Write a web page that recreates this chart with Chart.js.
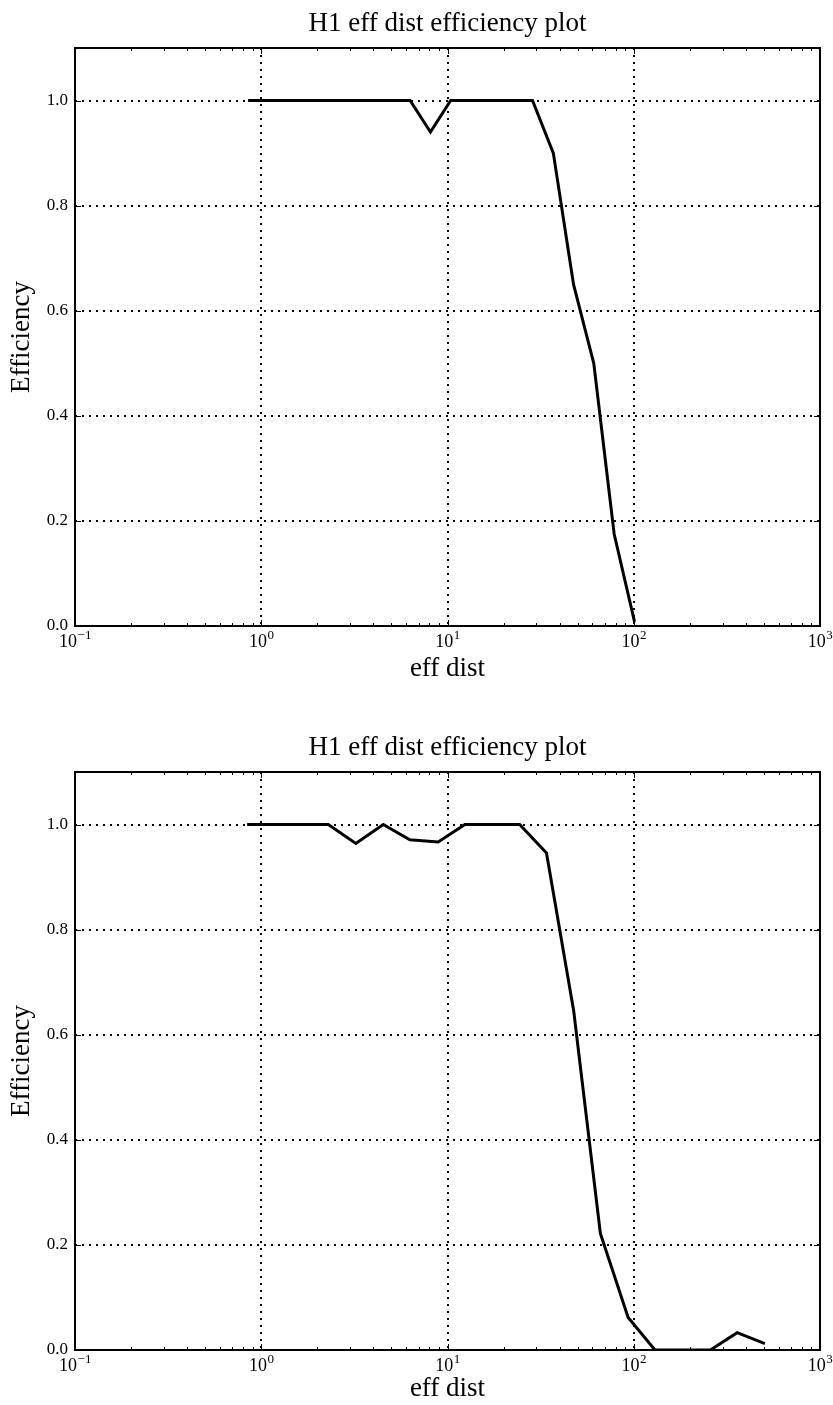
<!DOCTYPE html>
<html>
<head>
<meta charset="utf-8">
<script src="https://cdn.jsdelivr.net/npm/chart.js@4"></script>
<style>
	body { margin: 0; background: #fff; }
	canvas { display: block; }
</style>
</head>
<body>
<canvas id="topChart" width="833" height="724"></canvas>
<canvas id="bottomChart" width="833" height="681"></canvas>
<script>
const titleText = 'H1 eff dist efficiency plot';
const xAxisLabel = 'eff dist';
const yAxisLabel = 'Efficiency';

const xTickValues = [0.1, 1, 10, 100, 1000];
const xTickExponents = ['−1', '0', '1', '2', '3'];
const yTickValues = [0, 0.2, 0.4, 0.6, 0.8, 1.0];
const yTickLabels = ['0.0', '0.2', '0.4', '0.6', '0.8', '1.0'];

// top plot
const topDist = [0.85, 1.09, 1.40, 1.80, 2.31, 2.97, 3.82, 4.90, 6.3, 8.1, 10.4, 13.3, 17.1, 22.0, 28.6, 37.0, 47.5, 61.0, 78.5, 101];
const topEff = [1, 1, 1, 1, 1, 1, 1, 1, 1, 0.94, 1, 1, 1, 1, 1, 0.90, 0.65, 0.50, 0.175, 0.008];

// bottom plot
const bottomDist = [0.84, 1.17, 1.64, 2.29, 3.22, 4.52, 6.28, 8.91, 12.4, 17.4, 24.4, 34.0, 47.6, 66.2, 93.3, 130, 182, 258, 359, 506];
const bottomEff = [1, 1, 1, 1, 0.964, 1, 0.971, 0.967, 1, 1, 1, 0.946, 0.645, 0.222, 0.062, 0, 0, 0, 0.033, 0.012];

const serif = '"Liberation Serif", "DejaVu Serif", serif';

// frame, inward tick marks and 10^n labels, matplotlib style
const frameTicks = {
	id: 'frameTicks',
	afterDraw(chart) {
		const { ctx, chartArea: a } = chart;
		const xs = chart.scales.x;
		const ys = chart.scales.y;
		ctx.save();
		ctx.strokeStyle = '#000';
		ctx.lineWidth = 1;
		ctx.beginPath();
		for (let e = -1; e < 3; e++) {
			for (let k = 2; k <= 9; k++) {
				const px = Math.round(xs.getPixelForValue(k * Math.pow(10, e))) + 0.5;
				ctx.moveTo(px, a.bottom); ctx.lineTo(px, a.bottom - 3);
				ctx.moveTo(px, a.top); ctx.lineTo(px, a.top + 3);
			}
		}
		xTickValues.forEach(v => {
			const px = Math.round(xs.getPixelForValue(v)) + 0.5;
			ctx.moveTo(px, a.bottom); ctx.lineTo(px, a.bottom - 6);
			ctx.moveTo(px, a.top); ctx.lineTo(px, a.top + 6);
		});
		yTickValues.forEach(v => {
			const py = Math.round(ys.getPixelForValue(v)) + 0.5;
			ctx.moveTo(a.left, py); ctx.lineTo(a.left + 6, py);
			ctx.moveTo(a.right, py); ctx.lineTo(a.right - 6, py);
		});
		ctx.stroke();
		ctx.lineWidth = 2;
		ctx.strokeRect(a.left, a.top, a.right - a.left, a.bottom - a.top);

		// x tick labels as 10 with a raised exponent
		ctx.fillStyle = '#000';
		ctx.textBaseline = 'alphabetic';
		ctx.textAlign = 'left';
		const baseFont = '18px ' + serif;
		const expFont = '13px ' + serif;
		xTickValues.forEach((v, i) => {
			const px = xs.getPixelForValue(v);
			ctx.font = baseFont;
			const wb = ctx.measureText('10').width;
			ctx.font = expFont;
			const we = ctx.measureText(xTickExponents[i]).width;
			const x0 = px - (wb + we) / 2;
			const yb = a.bottom + 21;
			ctx.font = baseFont;
			ctx.fillText('10', x0, yb);
			ctx.font = expFont;
			ctx.fillText(xTickExponents[i], x0 + wb + 0.5, yb - 8);
		});
		ctx.restore();
	}
};

function makeChart(id, dist, eff) {
	const canvas = document.getElementById(id);
	const H = canvas.height;
	const plotTop = 48;
	const plotHeight = 578;
	const xAxisHeight = H - plotTop - plotHeight;
	const xTitlePad = Math.max(0, xAxisHeight - 16.2 - 43);

	return new Chart(canvas, {
		type: 'line',
		data: {
			datasets: [{
				data: dist.map((d, i) => ({ x: d, y: eff[i] })),
				borderColor: '#000',
				borderWidth: 3,
				pointRadius: 0,
				tension: 0,
				fill: false
			}]
		},
		options: {
			responsive: false,
			animation: false,
			layout: { padding: { left: 0, right: 13, top: 0, bottom: 0 } },
			plugins: {
				legend: { display: false },
				tooltip: { enabled: false },
				title: {
					display: true,
					text: titleText,
					fullSize: false,
					color: '#000',
					font: { family: serif, size: 27, weight: 'normal' },
					padding: { top: 8, bottom: 7.6 }
				}
			},
			scales: {
				x: {
					type: 'logarithmic',
					min: 0.1,
					max: 1000,
					afterBuildTicks: scale => {
						scale.ticks = xTickValues.map(v => ({ value: v }));
					},
					afterFit: scale => {
						scale.height = xAxisHeight;
						scale.paddingLeft = 0;
						scale.paddingRight = 0;
					},
					grid: { color: '#000', lineWidth: 2, drawTicks: false },
					border: { display: false, dash: [2, 5] },
					ticks: {
						display: true,
						color: 'rgba(0,0,0,0)',
						font: { family: serif, size: 17 },
						padding: 4,
						maxRotation: 0,
						autoSkip: false,
						callback: () => ''
					},
					title: {
						display: true,
						text: xAxisLabel,
						color: '#000',
						font: { family: serif, size: 27 },
						padding: { top: 0, bottom: xTitlePad }
					}
				},
				y: {
					min: 0,
					max: 1.1,
					afterBuildTicks: scale => {
						scale.ticks = yTickValues.map(v => ({ value: v }));
					},
					afterFit: scale => {
						scale.width = 75;
					},
					grid: { color: '#000', lineWidth: 2, drawTicks: false },
					border: { display: false, dash: [2, 5] },
					ticks: {
						color: '#000',
						font: { family: serif, size: 17 },
						padding: 7,
						callback: (v, i) => yTickLabels[i]
					},
					title: {
						display: true,
						text: yAxisLabel,
						color: '#000',
						font: { family: serif, size: 27 },
						padding: { top: 6, bottom: 0 }
					}
				}
			}
		},
		plugins: [frameTicks]
	});
}

makeChart('topChart', topDist, topEff);
makeChart('bottomChart', bottomDist, bottomEff);
</script>
</body>
</html>
